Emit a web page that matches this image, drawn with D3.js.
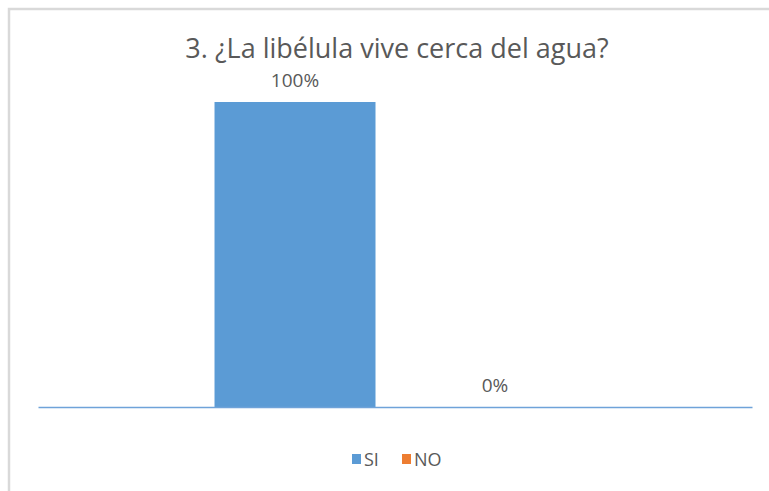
<!DOCTYPE html>
<html>
<head>
<meta charset="utf-8">
<script src="https://cdn.jsdelivr.net/npm/d3@7"></script>
<style>
  html, body { margin: 0; padding: 0; background: #fff; }
  svg { display: block; }
  text { font-family: "Open Sans", sans-serif; fill: #595959; }
</style>
</head>
<body>
<div id="chart"></div>
<script>
// chart data
var titleText = '3. \u00bfLa lib\u00e9lula vive cerca del agua?';
var categories = [''];
var seriesNames = ['SI', 'NO'];
var seriesValues = [1.00, 0.00];
var seriesColors = ['#5b9bd5', '#ed7d31'];

(function() {
  var W = 769, H = 491;
  var plot = { left: 38, right: 752, top: 102, bottom: 407 };

  var svg = d3.select('#chart').append('svg')
    .attr('width', W).attr('height', H);

  // outer frame (only top + left edge visible in the crop)
  svg.append('rect')
    .attr('x', 9).attr('y', 9)
    .attr('width', 900).attr('height', 700)
    .attr('fill', 'none')
    .attr('stroke', '#d9d9d9')
    .attr('stroke-width', 2.5);

  var x0 = d3.scaleBand()
    .domain(categories)
    .range([plot.left, plot.right])
    .paddingInner(0)
    .paddingOuter(0.489);

  var x1 = d3.scaleBand()
    .domain(seriesNames)
    .range([0, x0.bandwidth()])
    .paddingInner(0.195)
    .paddingOuter(0);

  var y = d3.scaleLinear()
    .domain([0, 1])
    .range([plot.bottom, plot.top]);

  var rows = seriesNames.map(function(s, i) {
    return { cat: categories[0], name: s, value: seriesValues[i], color: seriesColors[i] };
  });

  var g = svg.append('g');

  g.selectAll('rect.bar')
    .data(rows)
    .enter().append('rect')
      .attr('class', 'bar')
      .attr('x', function(d) { return x0(d.cat) + x1(d.name); })
      .attr('y', function(d) { return y(d.value); })
      .attr('width', x1.bandwidth())
      .attr('height', function(d) { return y(0) - y(d.value); })
      .attr('fill', function(d) { return d.color; });

  // category axis line
  var axis = d3.axisBottom(x0).tickSize(0).tickFormat('');
  var ax = svg.append('g')
    .attr('transform', 'translate(0,' + y(0) + ')')
    .call(axis);
  ax.select('.domain').attr('stroke', '#6fa3d9').attr('stroke-width', 1.5);

  // data labels
  g.selectAll('text.lbl')
    .data(rows)
    .enter().append('text')
      .attr('class', 'lbl')
      .attr('x', function(d) { return x0(d.cat) + x1(d.name) + x1.bandwidth() / 2; })
      .attr('y', function(d) { return y(d.value) - 15; })
      .attr('text-anchor', 'middle')
      .style('font-size', '19px')
      .text(function(d) { return d3.format('.0%')(d.value); });

  // title
  svg.append('text')
    .attr('x', 397).attr('y', 58)
    .attr('text-anchor', 'middle')
    .style('font-size', '27px')
    .text(titleText);

  // legend
  var legend = svg.append('g').attr('transform', 'translate(352,454)');
  var items = legend.selectAll('g.item')
    .data(rows)
    .enter().append('g')
      .attr('class', 'item')
      .attr('transform', function(d, i) { return 'translate(' + (i * 50) + ',0)'; });
  items.append('rect')
    .attr('width', 9).attr('height', 10)
    .attr('fill', function(d) { return d.color; });
  items.append('text')
    .attr('x', 12).attr('y', 11.5)
    .style('font-size', '18px')
    .text(function(d) { return d.name; });
})();
</script>
</body>
</html>
